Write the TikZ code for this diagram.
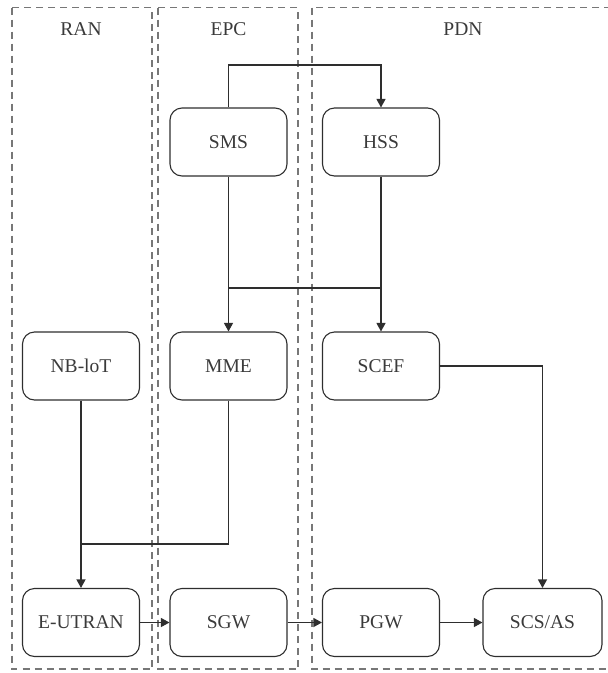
\documentclass[tikz,border=0pt]{standalone}
\usepackage{fontspec}
\setmainfont{Liberation Serif}
\usetikzlibrary{arrows.meta}
\definecolor{txt}{HTML}{3A3A3A}
\definecolor{edge}{HTML}{2E2E2E}
\definecolor{zone}{HTML}{777777}
\tikzset{
  unit/.style={draw=edge, line width=1.1pt, rounded corners=12pt, minimum width=117pt,
    minimum height=68pt, inner sep=0pt, text=txt, font=\fontsize{19.5}{22}\selectfont},
  zonebox/.style={draw=zone, line width=1.2pt, dash pattern=on 7pt off 5pt},
  zonelabel/.style={text=txt, font=\fontsize{19.5}{22}\selectfont},
  link/.style={draw=edge, line width=1.2pt},
  arr/.style={link, -{Triangle[width=9pt,length=8.5pt]}}
}
\begin{document}
\begin{tikzpicture}[x=1pt, y=-1pt]
\useasboundingbox (0,0) rectangle (608,673);
\clip (0,0) rectangle (608,673);
% domains
\draw[zonebox] (12,7.5) rectangle (152,669);
\draw[zonebox] (158,7.5) rectangle (298,669);
\draw[zonebox] (312,7.5) rectangle (640,669);
\node[zonelabel] (ran) at (81,29) {RAN};
\node[zonelabel] (epc) at (228.5,29) {EPC};
\node[zonelabel] (pdn) at (463,29) {PDN};
% functions
\node[unit] (sms) at (228.5,142) {SMS};
\node[unit] (hss) at (381,142) {HSS};
\node[unit] (nb) at (81,366) {NB-loT};
\node[unit] (mme) at (228.5,366) {MME};
\node[unit] (scef) at (381,366) {SCEF};
\node[unit] (eut) at (81,622.5) {E-UTRAN};
\node[unit] (sgw) at (228.5,622.5) {SGW};
\node[unit] (pgw) at (381,622.5) {PGW};
\node[unit, minimum width=119pt] (scs) at (542.5,622.5) {SCS/AS};
% routing levels
\coordinate (top) at (0,65);
\coordinate (mid) at (0,288);
\coordinate (low) at (0,544);
% connectors
\draw[arr] (sms.north) -- (sms.north |- top) -- (hss.north |- top) -- (hss.north);
\draw[arr] (sms.south) -- (mme.north);
\draw[arr] (hss.south) -- (scef.north);
\draw[link] (sms.south |- mid) -- (hss.south |- mid);
\draw[arr] (nb.south) -- (eut.north);
\draw[link] (mme.south) -- (mme.south |- low) -- (nb.south |- low);
\draw[arr] (eut.east) -- (sgw.west);
\draw[arr] (sgw.east) -- (pgw.west);
\draw[arr] (pgw.east) -- (scs.west);
\draw[arr] (scef.east) -- (scs.north |- scef.east) -- (scs.north);
\end{tikzpicture}
\end{document}
